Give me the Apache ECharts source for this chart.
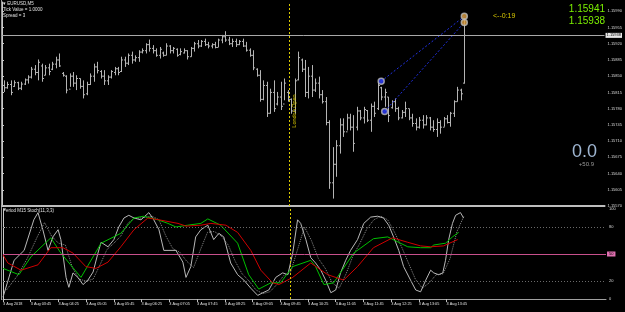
<!DOCTYPE html>
<html><head><meta charset="utf-8">
<script src="https://cdn.jsdelivr.net/npm/echarts/dist/echarts.min.js"></script>
<style>html,body{margin:0;padding:0;background:#000;}#c{width:625px;height:312px;}</style>
</head><body><div id="c"></div>
<script>
// ---- price bars (EURUSD M5), index 0 = 3 Aug 03:05 ----
const barOpen = [1.15830,1.15825,1.15832,1.15828,1.15836,1.15824,1.15833,1.15842,1.15848,1.15865,
1.15858,1.15872,1.15852,1.15868,1.15865,1.15876,1.15885,1.15856,1.15850,1.15822,
1.15850,1.15835,1.15845,1.15828,1.15812,1.15832,1.15850,1.15870,1.15860,1.15850,
1.15840,1.15848,1.15858,1.15866,1.15860,1.15885,1.15878,1.15895,1.15885,1.15890,
1.15902,1.15905,1.15918,1.15910,1.15905,1.15895,1.15900,1.15895,1.15915,1.15905,
1.15908,1.15897,1.15900,1.15905,1.15892,1.15910,1.15920,1.15915,1.15925,1.15918,
1.15915,1.15918,1.15912,1.15928,1.15935,1.15928,1.15920,1.15925,1.15918,1.15925,
1.15915,1.15906,1.15895,1.15865,1.15852,1.15800,1.15830,1.15770,1.15815,1.15790,
1.15805,1.15790,1.15815,1.15800,1.15775,1.15842,1.15885,1.15865,1.15815,1.15850,
1.15820,1.15835,1.15810,1.15795,1.15750,1.15620,1.15660,1.15700,1.15745,1.15730,
1.15760,1.15740,1.15740,1.15775,1.15760,1.15776,1.15755,1.15785,1.15780,1.15825,
1.15805,1.15805,1.15782,1.15795,1.15780,1.15760,1.15772,1.15780,1.15760,1.15748,
1.15740,1.15755,1.15745,1.15760,1.15740,1.15735,1.15750,1.15740,1.15758,1.15750,
1.15770,1.15795,1.15820,1.15835];
const barHigh = [1.15841,1.15838,1.15841,1.15841,1.15838,1.15838,1.15845,1.15852,1.15870,1.15874,
1.15886,1.15877,1.15874,1.15877,1.15881,1.15892,1.15899,1.15859,1.15852,1.15856,
1.15859,1.15852,1.15845,1.15841,1.15838,1.15856,1.15877,1.15881,1.15863,1.15863,
1.15852,1.15863,1.15870,1.15870,1.15892,1.15892,1.15899,1.15903,1.15895,1.15906,
1.15910,1.15921,1.15929,1.15917,1.15910,1.15913,1.15903,1.15921,1.15917,1.15913,
1.15910,1.15910,1.15910,1.15906,1.15913,1.15924,1.15928,1.15928,1.15931,1.15924,
1.15921,1.15924,1.15931,1.15939,1.15947,1.15935,1.15931,1.15931,1.15928,1.15931,
1.15924,1.15910,1.15906,1.15867,1.15863,1.15841,1.15838,1.15823,1.15841,1.15816,
1.15838,1.15845,1.15820,1.15802,1.15845,1.15903,1.15888,1.15885,1.15870,1.15874,
1.15845,1.15849,1.15820,1.15805,1.15755,1.15697,1.15712,1.15759,1.15759,1.15769,
1.15769,1.15766,1.15784,1.15777,1.15784,1.15777,1.15791,1.15795,1.15838,1.15827,
1.15823,1.15805,1.15798,1.15802,1.15784,1.15777,1.15795,1.15780,1.15769,1.15759,
1.15762,1.15766,1.15766,1.15762,1.15755,1.15759,1.15755,1.15762,1.15766,1.15773,
1.15798,1.15827,1.15823,1.15975];
const barLow = [1.15816,1.15823,1.15809,1.15827,1.15820,1.15820,1.15831,1.15834,1.15845,1.15852,
1.15841,1.15838,1.15852,1.15852,1.15863,1.15867,1.15870,1.15849,1.15813,1.15827,
1.15827,1.15820,1.15823,1.15802,1.15809,1.15831,1.15838,1.15856,1.15845,1.15831,
1.15831,1.15845,1.15852,1.15852,1.15859,1.15870,1.15874,1.15877,1.15881,1.15881,
1.15899,1.15899,1.15903,1.15899,1.15892,1.15888,1.15892,1.15895,1.15899,1.15899,
1.15892,1.15895,1.15899,1.15886,1.15892,1.15903,1.15910,1.15913,1.15915,1.15910,
1.15910,1.15910,1.15913,1.15921,1.15924,1.15917,1.15913,1.15913,1.15917,1.15913,
1.15903,1.15892,1.15863,1.15849,1.15795,1.15798,1.15762,1.15769,1.15773,1.15787,
1.15777,1.15798,1.15795,1.15769,1.15769,1.15841,1.15859,1.15805,1.15802,1.15805,
1.15816,1.15802,1.15791,1.15744,1.15607,1.15586,1.15633,1.15683,1.15719,1.15733,
1.15733,1.15687,1.15733,1.15755,1.15748,1.15751,1.15730,1.15762,1.15777,1.15798,
1.15784,1.15751,1.15780,1.15773,1.15755,1.15759,1.15762,1.15755,1.15741,1.15733,
1.15737,1.15737,1.15744,1.15733,1.15730,1.15719,1.15726,1.15741,1.15748,1.15741,
1.15762,1.15795,1.15798,1.15834];
const barClose = [1.15825,1.15832,1.15815,1.15836,1.15824,1.15833,1.15842,1.15848,1.15865,1.15858,
1.15880,1.15845,1.15868,1.15860,1.15876,1.15885,1.15872,1.15852,1.15820,1.15850,
1.15835,1.15845,1.15828,1.15810,1.15832,1.15850,1.15870,1.15862,1.15850,1.15840,
1.15848,1.15860,1.15866,1.15858,1.15885,1.15878,1.15895,1.15885,1.15890,1.15902,
1.15905,1.15918,1.15910,1.15905,1.15895,1.15908,1.15895,1.15915,1.15905,1.15910,
1.15895,1.15903,1.15905,1.15892,1.15910,1.15920,1.15915,1.15925,1.15918,1.15915,
1.15918,1.15912,1.15928,1.15935,1.15928,1.15920,1.15925,1.15918,1.15925,1.15915,
1.15906,1.15895,1.15868,1.15852,1.15800,1.15830,1.15770,1.15815,1.15780,1.15805,
1.15785,1.15835,1.15800,1.15775,1.15840,1.15890,1.15865,1.15815,1.15850,1.15820,
1.15835,1.15810,1.15795,1.15750,1.15620,1.15660,1.15700,1.15745,1.15730,1.15760,
1.15740,1.15705,1.15775,1.15760,1.15778,1.15755,1.15785,1.15770,1.15830,1.15805,
1.15815,1.15765,1.15795,1.15780,1.15760,1.15772,1.15780,1.15760,1.15748,1.15740,
1.15755,1.15745,1.15760,1.15740,1.15735,1.15750,1.15740,1.15758,1.15750,1.15770,
1.15795,1.15820,1.15812,1.15938];

// ---- time axis ----
const xTickPos = [0,8,16,24,32,40,48,56,64,72,80,88,96,104,112,120,128];
const xLabels = ["3 Aug 2018","3 Aug 03:45","3 Aug 04:25","3 Aug 05:05","3 Aug 05:45","3 Aug 06:25",
"3 Aug 07:05","3 Aug 07:45","3 Aug 08:25","3 Aug 09:05","3 Aug 09:45","3 Aug 10:25","3 Aug 11:05",
"3 Aug 11:45","3 Aug 12:25","3 Aug 13:05","3 Aug 13:45"];
const londonOpenBar = 83;

// ---- price levels / trades ----
const bidPrice = 1.15938;
const askPrice = 1.15941;
const tradeOpenBar = [109, 110];
const tradeOpenPrice = [1.15839, 1.15774];
const tradeCloseBar = [133, 133];
const tradeClosePrice = [1.15979, 1.15966];

// ---- Stochastic panel ([time position, value]) ----
const stochMain = [[0,2],[3.2,43],[6.1,54],[8.9,88],[10.1,96],[11.5,77],[13,54],[14.4,69],[15.9,77],[16.7,66],[18.2,24],[19,13],[20.2,29],[21.6,24],[23.1,16],[24.5,21],[26,30],[27.4,51],[28.3,63],[30.3,58],[32,66],[33.4,80],[34.9,90],[36.3,93],[37.8,90],[39.8,88],[42.1,96],[43.5,88],[45,77],[46.4,54],[47.9,54],[49.9,54],[51.9,41],[52.8,24],[54.2,36],[55.6,69],[57.1,77],[59.1,82],[60.8,66],[62.3,73],[63.7,69],[65.7,40],[67.7,27],[69.5,21],[71.5,12],[73.5,4],[75,7],[76.7,10],[78.7,24],[80.7,29],[82.2,27],[83.6,51],[85,88],[85.9,84],[87.4,66],[88.8,46],[90.2,40],[91.7,32],[93.1,21],[94.6,7],[96,10],[97.4,29],[98.9,43],[100.3,54],[102.3,66],[104.1,84],[106.1,91],[108.1,92],[109.8,90],[111.3,82],[112.7,69],[114.2,54],[115.6,36],[117.6,21],[119.1,10],[120.5,8],[122,21],[123.4,32],[124.3,29],[125.7,27],[126.9,29],[127.7,43],[128.6,66],[129.7,84],[130.6,93],[132,96],[132.9,90]];
const stochSignal = [[1,10],[4,25],[7,45],[10,70],[12,85],[14,70],[16,62],[18,60],[20,35],[22,22],[24,20],[26,22],[28,38],[30,55],[32,62],[34,70],[36,84],[38,90],[40,90],[43,92],[45,88],[47,70],[49,56],[51,52],[53,42],[55,35],[57,55],[59,74],[61,75],[63,70],[65,60],[67,42],[69,28],[71,20],[73,10],[75,6],[77,8],[79,16],[81,26],[83,30],[85,55],[87,80],[89,65],[91,45],[93,34],[95,18],[97,12],[99,28],[101,48],[103,62],[105,78],[107,88],[109,92],[111,88],[113,74],[115,58],[117,40],[119,22],[121,12],[123,18],[125,27],[127,28],[129,45],[131,75],[133,92]];
const stochM15Main = [[0,34],[4.6,27],[8.1,47],[13.8,68],[16.7,51],[22.5,24],[28.3,62],[34,73],[37.8,90],[40.6,92],[44.7,88],[47.6,84],[49.9,80],[53.3,82],[57.1,84],[59.1,89],[62.8,82],[67.7,62],[70.9,27],[73.8,11],[77.3,18],[80.1,18],[83.6,36],[88.8,43],[90.2,36],[92.6,16],[95.4,18],[101.2,51],[106.9,67],[111,69],[116.8,58],[120.5,57],[123.4,57],[124.3,60],[127.7,62],[129.7,69],[131.5,74]];
const stochM15Signal = [[0,49],[1.4,40],[5.2,32],[10.1,38],[13.8,57],[17.3,57],[20.2,51],[23.9,36],[26.8,34],[30.3,41],[34,58],[37.8,77],[41.8,90],[45,88],[50.5,84],[52.8,81],[57.1,82],[60,84],[64.3,82],[67.7,74],[71.5,54],[74.4,32],[77.8,18],[79.6,16],[83.6,24],[88.8,40],[93.7,27],[98.3,21],[102.3,36],[106.9,57],[112.4,68],[116.8,63],[120.5,59],[123.4,58],[127.1,59],[131.2,66]];
const stochLevels = [20, 50, 80];
const stochTicks = [0, 20, 80, 100];

// ---------------------------------------------------------------
const FONT = 'Liberation Sans';
const barColor = '#b4b4b4';
const ohlcData = barOpen.map((o, i) => [i, o, barHigh[i], barLow[i], barClose[i]]);

function renderOHLC(params, api) {
  const x = api.value(0) + 0.5;
  const o = api.coord([x, api.value(1)]);
  const h = api.coord([x, api.value(2)]);
  const l = api.coord([x, api.value(3)]);
  const c = api.coord([x, api.value(4)]);
  const px = Math.round(o[0]) + 0.5;
  const st = { stroke: barColor, lineWidth: 1 };
  return { type: 'group', children: [
    { type: 'line', shape: { x1: px, y1: h[1], x2: px, y2: l[1] }, style: st },
    { type: 'line', shape: { x1: px - 1.5, y1: o[1], x2: px, y2: o[1] }, style: st },
    { type: 'line', shape: { x1: px, y1: c[1], x2: px + 1.5, y2: c[1] }, style: st }
  ]};
}

const chart = echarts.init(document.getElementById('c'), null, { renderer: 'canvas' });
const tradePts = [];
tradeOpenBar.forEach((b, i) => tradePts.push({ value: [b + 0.5, tradeOpenPrice[i]], itemStyle: { color: '#3040ff' } }));
tradeCloseBar.forEach((b, i) => tradePts.push({ value: [b + 0.5, tradeClosePrice[i]], itemStyle: { color: '#e0a040' } }));
const tradeLines = tradeOpenBar.map((b, i) => [
  { coord: [b + 0.5, tradeOpenPrice[i]] },
  { coord: [tradeCloseBar[i] + 0.5, tradeClosePrice[i]] }
]);

const txt = (x, y, text, size, color, align) => ({
  type: 'text', x: x, y: y, silent: true,
  style: { text: text, fill: color, font: size + 'px "' + FONT + '"', textAlign: align || 'left', textVerticalAlign: 'middle' }
});

chart.setOption({
  animation: false,
  backgroundColor: '#000000',
  grid: [
    { left: 2, right: 19, top: 2, height: 204 },
    { left: 2, right: 19, top: 209, height: 90 }
  ],
  xAxis: [
    { type: 'value', gridIndex: 0, min: 0, max: 174, splitLine: { show: false },
      axisLine: { show: true, lineStyle: { color: '#bdbdbd', width: 2 } },
      axisTick: { show: false }, axisLabel: { show: false } },
    { type: 'value', gridIndex: 1, min: 0, max: 174, splitLine: { show: false },
      axisLine: { show: true, lineStyle: { color: '#a0a0a0', width: 1 } },
      axisTick: { show: true, customValues: xTickPos, length: 3, lineStyle: { color: '#c0c0c0' } },
      axisLabel: { show: true, customValues: xTickPos, color: '#e0e0e0', fontSize: 3.8, fontFamily: FONT,
        align: 'left', margin: 3, formatter: v => xLabels[xTickPos.indexOf(v)] || '' } }
  ],
  yAxis: [
    { type: 'value', gridIndex: 0, position: 'right', min: 1.1557, max: 1.1601, interval: 0.00035,
      splitLine: { show: false },
      axisLine: { show: true, lineStyle: { color: '#c8c8c8' } },
      axisTick: { show: true, length: 2, lineStyle: { color: '#c8c8c8' } },
      axisLabel: { color: '#d8d8d8', fontSize: 4, fontFamily: FONT, margin: 3, showMaxLabel: false,
        formatter: v => v.toFixed(5) } },
    { type: 'value', gridIndex: 1, position: 'right', min: 0, max: 100,
      splitLine: { show: false },
      axisLine: { show: true, lineStyle: { color: '#c8c8c8' } },
      axisTick: { show: true, customValues: stochTicks, length: 2, lineStyle: { color: '#c8c8c8' } },
      axisLabel: { customValues: stochTicks, color: '#d8d8d8', fontSize: 4, fontFamily: FONT, margin: 3 } }
  ],
  series: [
    { type: 'custom', name: 'EURUSD', xAxisIndex: 0, yAxisIndex: 0, renderItem: renderOHLC,
      encode: { x: 0, y: [1, 2, 3, 4] }, data: ohlcData, clip: true },
    { type: 'scatter', xAxisIndex: 0, yAxisIndex: 0, data: tradePts, symbol: 'circle', symbolSize: 6,
      itemStyle: { borderColor: '#bcbcbc', borderWidth: 1.5 }, z: 5,
      markLine: { silent: true, symbol: ['none', 'none'], animation: false, precision: 5,
        data: [
          ...tradeLines.map(p => [Object.assign({ lineStyle: { color: '#2030e0', type: [2, 2], width: 1 } }, p[0]), p[1]]),
          { yAxis: bidPrice, lineStyle: { color: '#a8a8a8', type: 'solid', width: 1 },
            label: { show: true, position: 'end', formatter: bidPrice.toFixed(5), color: '#000', backgroundColor: '#e8e8e8',
              fontSize: 4, fontFamily: FONT, padding: [1, 1, 0, 1], distance: 1 } },
          { xAxis: londonOpenBar, lineStyle: { color: '#d8c800', type: [2, 2], width: 1 },
            label: { show: true, position: 'insideMiddleBottom', formatter: 'London Open', color: '#d8c800',
              fontSize: 5.5, fontFamily: FONT, distance: 2, padding: [0, 14, 0, 0] } }
        ],
        label: { show: false } } },
    { type: 'line', xAxisIndex: 1, yAxisIndex: 1, data: stochMain, showSymbol: false, symbol: 'none',
      lineStyle: { color: '#b8b8b8', width: 1 }, z: 3,
      markLine: { silent: true, symbol: ['none', 'none'], animation: false, precision: 5,
        data: [
          { yAxis: stochLevels[0], lineStyle: { color: '#6a6a6a', type: [1, 2], width: 1 }, label: { show: false } },
          { yAxis: stochLevels[2], lineStyle: { color: '#6a6a6a', type: [1, 2], width: 1 }, label: { show: false } },
          { yAxis: stochLevels[1], lineStyle: { color: '#c8508c', type: 'solid', width: 1 },
            label: { show: true, position: 'end', formatter: '50', color: '#000', backgroundColor: '#e070b0',
              fontSize: 4, fontFamily: FONT, padding: [1, 2, 0, 2], distance: 1 } },
          { xAxis: londonOpenBar, lineStyle: { color: '#d8c800', type: [2, 2], width: 1 }, label: { show: false } }
        ] } },
    { type: 'line', xAxisIndex: 1, yAxisIndex: 1, data: stochSignal, showSymbol: false, symbol: 'none',
      lineStyle: { color: '#8a8a8a', width: 1, type: [1, 1] }, z: 2 },
    { type: 'line', xAxisIndex: 1, yAxisIndex: 1, data: stochM15Main, showSymbol: false, symbol: 'none',
      lineStyle: { color: '#00c000', width: 1 }, z: 4 },
    { type: 'line', xAxisIndex: 1, yAxisIndex: 1, data: stochM15Signal, showSymbol: false, symbol: 'none',
      lineStyle: { color: '#d00000', width: 1 }, z: 4 }
  ],
  graphic: [
    { type: 'line', shape: { x1: 1.5, y1: 0, x2: 1.5, y2: 300 }, style: { stroke: '#9a9a9a', lineWidth: 1 }, silent: true },
    txt(3, 4, '\u25BE EURUSD,M5', 4.5, '#e0e0e0'),
    txt(3, 10, 'Tick Value = 1.0000', 4.5, '#e0e0e0'),
    txt(3, 16, 'Spread = 3', 4.5, '#e0e0e0'),
    txt(605, 9, askPrice.toFixed(5), 10, '#7cf000', 'right'),
    txt(605, 21, bidPrice.toFixed(5), 10, '#7cf000', 'right'),
    txt(493, 16, '<--0:19', 7, '#d8c800'),
    txt(597, 152, '0.0', 18, '#9fb6d2', 'right'),
    txt(594, 164, '+50.9', 6, '#9a9a9a', 'right'),
    txt(3, 211, 'Period M15 Stoch(11,3,3)', 4.5, '#e0e0e0')
  ]
});
</script></body></html>
